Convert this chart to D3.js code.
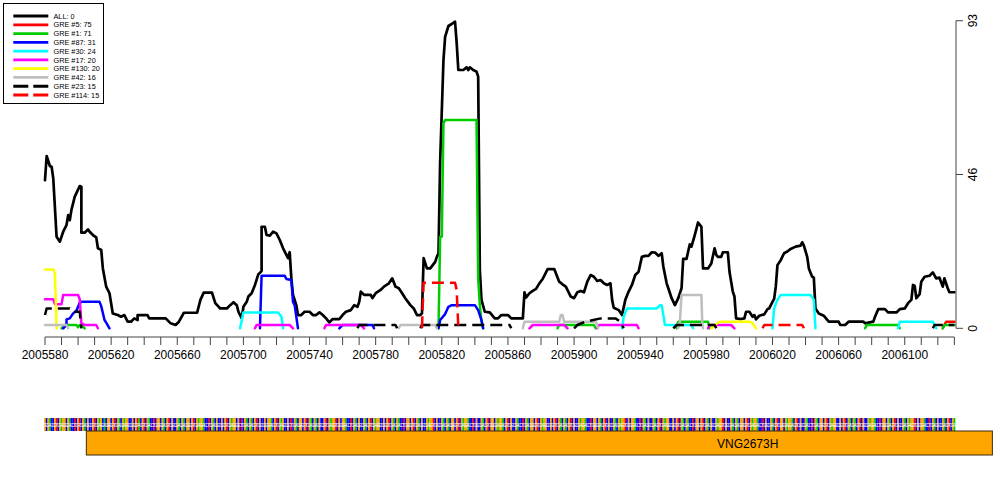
<!DOCTYPE html>
<meta charset="utf-8">
<style>
body { margin: 0; background: #fff; }
text { font-family: "Liberation Sans", Arial, sans-serif; }
.axis line, .axis path { stroke: #444; }
</style>
<body>
<script src="https://d3js.org/d3.v7.min.js"></script>
<script>
// genomic window
var start = 2005580, end = 2006131;
var xTickVals = d3.range(2005580, 2006131, 10);
var xLabelVals = d3.range(2005580, 2006101, 40);
var yTickVals = [0, 46.5, 93];
var yTickLabels = ["0", "46", "93"];

// series names / colours, in drawing order
var names = ["ALL: 0", "GRE #5: 75", "GRE #1: 71", "GRE #87: 31", "GRE #30: 24",
             "GRE #17: 20", "GRE #130: 20", "GRE #42: 16", "GRE #23: 15", "GRE #114: 15"];
var colors = ["#000000", "#ff0000", "#00cd00", "#0000ff", "#00ffff",
              "#ff00ff", "#ffff00", "#bebebe", "#000000", "#ff0000"];
var dashed = [false, false, false, false, false, false, false, false, true, true];

// [offset from start, value]
var allScores = [[[0,44.8],[1,52.1],[3,49],[4,48.9],[5,45.3],[7,27.7],[9,26.2],[11,29.2],[13,31.2],[14,34.2],[15,32.7],[16,35.8],[18,39.8],[21,43],[22,42.8],[22,28.9],[24,28.9],[26,29.9],[27,29.2],[29,28.2],[31,27.5],[32,24.2],[34,23.7],[35,18.1],[37,12.6],[39,10.6],[41,4.5],[44,4],[46,3.5],[48,4],[50,2],[52,2],[54,3],[56,2.5],[56,4],[62,4],[63,3],[73,3],[76,1.5],[79,1],[81,2],[84,4.7],[92,4.7],[94,8.6],[96,10.8],[101,10.8],[103,7.6],[106,6],[110,6],[112,7],[114,7.9],[116,7],[117,5],[119,3],[120,6.5],[122,8],[123,9.6],[125,10.6],[127,13.1],[129,16.3],[131,17.3],[131,30.7],[133,30.7],[134,28.2],[136,28],[138,29.2],[140,28.7],[142,26.7],[144,24.2],[145,23.2],[147,21.2],[148,23],[149,15.1],[150,10.1],[152,7],[153,4],[155,4],[157,5],[160,5],[162,4],[164,4],[166,4.8],[168,4],[170,3],[172,1.8],[174,2.8],[178,2.8],[180,4],[182,5],[185,5.5],[187,7],[189,6.5],[190,7.9],[191,11.1],[193,10.1],[197,10.1],[198,9.1],[200,10.6],[203,11.6],[205,12.6],[208,13.6],[210,15.1],[212,12.6],[214,12.1],[216,10.6],[218,9],[221,7],[223,6],[225,4],[227,4],[228,4.5],[229,21.2],[231,18.1],[233,18.1],[236,20.1],[237,21.6],[238,22.7],[239,50.4],[241,81.1],[242,88.1],[244,91.4],[246,92],[248,92.7],[249,86.2],[250,78.1],[253,78.1],[255,78.9],[256,78.1],[257,78.9],[259,78.1],[261,77.6],[262,76.1],[263,17.6],[264,8.6],[266,5],[269,4.8],[272,3],[274,3],[276,4],[280,4],[282,3],[289,3],[290,10.9],[291,9.3],[293,10.6],[295,11.3],[297,11.9],[299,13.6],[301,14.9],[304,17.9],[308,17.9],[311,14.1],[313,13.3],[315,12.6],[318,9.6],[320,9.1],[322,10.9],[324,11.3],[326,10.9],[328,14.1],[330,16.1],[332,15.6],[334,14.3],[336,14.6],[338,13.6],[340,13.1],[342,13.6],[343,8.6],[344,6.2],[347,5.5],[349,4],[351,8.6],[353,11.1],[355,13.1],[357,16.1],[359,17.1],[361,21.6],[363,21.9],[365,21.9],[367,23],[369,22.9],[371,21.9],[373,22.7],[374,18.6],[376,13.6],[377,12.1],[379,9.1],[381,7],[383,9.1],[385,12.1],[386,21],[388,21],[390,25.4],[391,24.7],[393,28.2],[395,32],[397,30.7],[398,18.1],[401,18.1],[403,19.6],[405,24.2],[406,22.2],[407,21.6],[409,21.6],[410,23],[413,23],[414,17.1],[416,11.1],[417,9.6],[418,3],[421,2.8],[423,3],[424,5],[426,5],[428,3.5],[429,4],[430,2.7],[432,3.8],[435,4.2],[437,5.8],[438,6],[440,8],[441,8.9],[442,12.6],[443,19.1],[445,20.6],[447,22.7],[449,23.2],[451,24],[454,24.7],[457,25],[458,26],[459,25],[461,21.6],[462,18.1],[464,15.6],[465,15.3],[466,6],[468,4.5],[471,3.8],[474,2],[480,2],[481,1],[484,1],[486,2],[495,2],[496,1.5],[501,2],[502,3.5],[504,5.8],[508,5.8],[510,4.8],[515,4.8],[517,5.8],[520,6],[522,7.6],[524,8.6],[525,13.1],[526,12.9],[527,9.1],[529,10.3],[530,14.1],[532,15.6],[535,15.9],[537,16.9],[539,15.1],[541,15.3],[543,12.6],[544,15.1],[546,12.1],[547,10.9],[550,10.9]]];

var gre5 = [[[543,0],[545,2],[550,2]]];

var gre1 = [
  [[10,0],[12,1],[19,1],[20,0.3],[21,1],[22,1],[24,0]],
  [[238,0],[239,27.7],[240,27.7],[241,62],[242,63],[261,63],[262,15],[263,7],[264,2],[265,0]],
  [[310,0],[311,1],[332,1],[333,0]],
  [[382,0],[383,2],[401,2],[402,0]],
  [[496,0],[497,1],[516,1],[517,0]],
  [[543,0],[544,1],[550,1]]];

var gre87 = [
  [[11,0],[13,1],[13,2.7],[15,3],[17,4.5],[19,5.3],[21,7.7],[22,8],[33,8],[34,6.7],[36,2.5],[37,1.7],[39,0]],
  [[130,0],[131,15.9],[145,15.9],[146,14.9],[149,14.6],[150,8],[151,7],[153,0]],
  [[178,0],[180,1],[198,1],[199,0]],
  [[238,0],[239,2.5],[242,4.3],[244,6.5],[246,7],[260,7],[262,5.5],[264,2.5],[265,0]]];

var gre30 = [
  [[118,0],[120,4.8],[141,4.8],[143,3.5],[144,0]],
  [[349,0],[350,3.5],[352,6],[370,6],[372,7],[373,7],[375,1],[391,1],[392,0]],
  [[440,0],[441,6],[443,8.6],[445,10.1],[463,10.1],[465,8.6],[466,0]],
  [[516,0],[517,2],[537,2],[539,0]]];

var gre17 = [
  [[0,8.8],[5,8.8],[6,7.3],[10,7.3],[11,10.1],[20,10.1],[21,8.8],[22,1.5],[24,1],[31,1],[32,0]],
  [[127,0],[128,1],[148,1],[150,0]],
  [[169,0],[170,1],[191,1],[193,0]],
  [[293,0],[295,1],[314,1],[316,0]],
  [[334,0],[335,1],[358,1],[359,0]],
  [[401,0],[402,1],[415,1],[417,0]]];

var gre130 = [
  [[0,17.8],[5,17.8],[6,16.6],[7,0]],
  [[403,0],[405,1],[408,2],[426,2],[428,1.5],[430,0]]];

var gre42 = [
  [[0,1],[13,1],[14,0]],
  [[214,0],[215,1],[236,1],[237,0]],
  [[289,0],[290,2],[311,2],[312,4],[313,4],[314,2],[333,2],[334,1],[334.5,0]],
  [[383,0],[384,2],[385,10.1],[397,10.1],[397.5,2],[398,0]]];

var gre23 = [
  [[0,4],[1,6],[15,6],[17,5],[21,5],[22,0]],
  [[189,0],[190,1],[212,1],[213,0]],
  [[227,0],[228,1],[281,1],[282,0]],
  [[320,0],[322,1],[327,2],[336,3],[345,3],[348,2],[350,0]],
  [[380,0],[382,1],[405,1],[406,0]],
  [[537,0],[538,1],[550,1]]];

var gre114 = [
  [[228,0],[229,13.8],[248,13.8],[249,11.6],[250,0]],
  [[434,0],[435,1],[458,1],[459,0]]];

var seriesList = [allScores, gre5, gre1, gre87, gre30, gre17, gre130, gre42, gre23, gre114];

// sequence track and gene
var sequence =
  "GCGACCGTCGAGGCGACCTCGTCGACGCCGTCGAGCACGGCGTCGACGAGGCCGCGTACGTCGACCTCGGCGACGTCGCCGACGACGGCGTCGAGGACC" +
  "TCGACGCCGCGTCGAGGCGCTCGACGACGTCGCCGCGGACGTCGAGCCGCTCGACGGCGTCGACGACGCCGTCGAGGTCGCGGACCTCGACGCCGACGT" +
  "CGAGGCCGCGTCGACGACCTCGGCGTCGACGCCGAGGTCGCCGACGACGGCGTCGAGGACCTCGCCGACGTCGGCGAGGACGTCGCCGACCTCGACGGCG" +
  "TCGAGGCCGCGTCGACGACGTCGCCGAGGACCTCGGCGACGTCGCCGACGAGGTCGCGGACCTCGACGCCGACGTCGAGGCCGCGTCGACGACCTCGGCG" +
  "TCGACGCCGAGGTCGCCGACGACGGCGTCGAGGACCTCGCCGACGTCGGCGAGGACGTCGCCGACCTCGACGGCGTCGAGGCCGCGTCGACGACGTCGCC" +
  "GAGGACCTCGGCGACGTCGCCGACGAGGTCGCGGACCTCGACGCCGACGTCGAGG";
var baseColors = {A: "#00cc00", C: "#0000ff", G: "#ffa500", T: "#ff0000"};
var geneStart = 2005605, geneEnd = 2006153, geneName = "VNG2673H", geneLabelPos = 2006005;

var W = 1000, H = 500;
var svg = d3.select("body").append("svg").attr("width", W).attr("height", H);

var x = d3.scaleLinear().domain([start, end]).range([45, 956]);
var y = d3.scaleLinear().domain([0, 93]).range([328.3, 20.7]);

var line = d3.line()
    .x(function(d) { return x(start + d[0]); })
    .y(function(d) { return y(d[1]); });

seriesList.forEach(function(segs, i) {
  svg.append("g").selectAll("path")
      .data(segs)
    .enter().append("path")
      .attr("d", line)
      .attr("fill", "none")
      .attr("stroke", colors[i])
      .attr("stroke-width", i == 0 ? 2.7 : 2.5)
      .attr("stroke-linejoin", "round")
      .attr("stroke-linecap", dashed[i] ? "butt" : "round")
      .attr("stroke-dasharray", dashed[i] ? "12,6" : null);
});

// bottom axis
var xAxis = svg.append("g").attr("class", "axis")
    .attr("transform", "translate(0,337)");
xAxis.append("line")
    .attr("x1", x(xTickVals[0])).attr("x2", x(xTickVals[xTickVals.length - 1]))
    .attr("y1", 0).attr("y2", 0);
xAxis.selectAll(".tk").data(xTickVals).enter().append("line")
    .attr("x1", function(d) { return x(d); }).attr("x2", function(d) { return x(d); })
    .attr("y1", 0).attr("y2", 8);
xAxis.selectAll("text").data(xLabelVals).enter().append("text")
    .attr("x", function(d) { return x(d); })
    .attr("y", 22)
    .attr("text-anchor", "middle")
    .style("font-size", "12px")
    .text(function(d) { return d; });

// right axis
var yAxis = svg.append("g").attr("class", "axis")
    .attr("transform", "translate(956,0)");
yAxis.append("line")
    .attr("x1", 0).attr("x2", 0)
    .attr("y1", y(93)).attr("y2", y(0));
yAxis.selectAll(".tk").data(yTickVals).enter().append("line")
    .attr("x1", 0).attr("x2", 7)
    .attr("y1", function(d) { return y(d); }).attr("y2", function(d) { return y(d); });
yAxis.selectAll("text").data(yTickVals).enter().append("text")
    .attr("transform", function(d) { return "translate(21," + y(d) + ") rotate(-90)"; })
    .attr("text-anchor", "middle")
    .style("font-size", "12px")
    .text(function(d, i) { return yTickLabels[i]; });

// legend
var legend = svg.append("g").attr("transform", "translate(3,3)");
legend.append("rect")
    .attr("x", 0.5).attr("y", 0.5).attr("width", 100).attr("height", 100)
    .attr("fill", "#fff").attr("stroke", "#000").attr("stroke-width", 1);
names.forEach(function(n, i) {
  var ly = 13 + i * 8.78;
  legend.append("line")
      .attr("x1", 10.3).attr("x2", 45.3).attr("y1", ly).attr("y2", ly)
      .attr("stroke", colors[i]).attr("stroke-width", 2.8)
      .attr("stroke-dasharray", dashed[i] ? "15,5" : null);
  legend.append("text")
      .attr("x", 50.5).attr("y", ly + 2.6)
      .style("font-size", "7.3px")
      .text(n);
});

// sequence track
var bw = x(start + 1) - x(start);
var bases = sequence.split("").slice(0, end - start);
var seqG = svg.append("g");
seqG.selectAll("rect")
    .data(bases)
  .enter().append("rect")
    .attr("x", function(d, i) { return x(start + i) - bw / 2; })
    .attr("y", 418)
    .attr("width", bw + 0.15)
    .attr("height", 13)
    .attr("fill", function(d) { return baseColors[d]; });
// tiny white base letters
seqG.selectAll("text")
    .data(bases)
  .enter().append("text")
    .attr("x", function(d, i) { return x(start + i); })
    .attr("y", 426.5)
    .attr("text-anchor", "middle")
    .attr("fill", "#fff")
    .attr("fill-opacity", 0.8)
    .style("font-size", "5px")
    .text(function(d) { return d; });

// gene
svg.append("rect")
    .attr("x", x(geneStart)).attr("y", 431)
    .attr("width", x(geneEnd) - x(geneStart)).attr("height", 24)
    .attr("fill", "#ffa500").attr("stroke", "#3a2a10").attr("stroke-width", 1);
svg.append("text")
    .attr("x", x(geneLabelPos)).attr("y", 447.5)
    .attr("text-anchor", "middle")
    .style("font-size", "12px")
    .text(geneName);
</script>
</body>
